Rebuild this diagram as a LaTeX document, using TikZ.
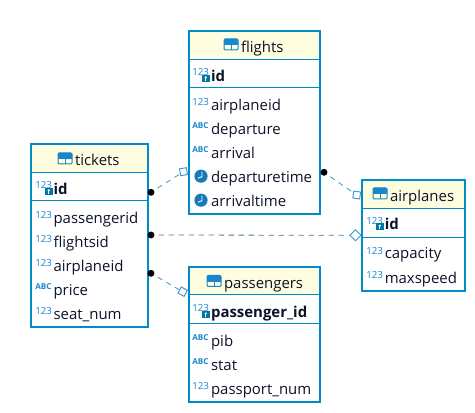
\documentclass[tikz,border=0pt]{standalone}
\usepackage{fontspec}
\setmainfont{Open Sans}
\usepackage{xcolor}
\usetikzlibrary{shapes.geometric}
\definecolor{boxblue}{RGB}{0,140,200}
\definecolor{iconblue}{RGB}{25,135,205}
\definecolor{headyellow}{RGB}{255,253,224}
\definecolor{linkblue}{RGB}{60,150,200}
\definecolor{linkdark}{RGB}{70,120,150}
\definecolor{inkdark}{RGB}{12,18,40}
\tikzset{
  entitybox/.style={draw=boxblue,line width=2.1pt,inner sep=0pt,outer sep=0pt,anchor=north west},
  headfill/.style={fill=headyellow,inner sep=0pt,outer sep=0pt,anchor=north west},
  fieldtext/.style={anchor=base west,inner sep=0pt,xshift=-0.9pt,yshift=-0.4pt,text=inkdark,font=\fontsize{11.2}{13}\selectfont},
  keytext/.style={fieldtext,font=\fontsize{11.2}{13}\selectfont\bfseries},
  numicon/.style={anchor=base west,inner sep=0pt,text=iconblue,font=\fontsize{7.3}{8}\selectfont},
  abcicon/.style={anchor=base west,inner sep=0pt,text=iconblue,font=\fontsize{6.1}{7}\selectfont\bfseries},
  rowrule/.style={draw=boxblue,line width=0.75pt},
  reldot/.style={circle,fill=black,inner sep=0pt,minimum size=5.2pt},
  relsquare/.style={draw=linkblue,fill=white,line width=0.7pt,inner sep=0pt,minimum size=5.2pt},
  reldiamond/.style={diamond,draw=linkblue,fill=white,line width=0.6pt,inner sep=0pt,minimum size=8.5pt},
  rellink/.style={draw=linkblue,line width=0.6pt,dash pattern=on 4pt off 3.5pt},
}
% table icon left of a title, #1 = left, #2 = baseline
\newcommand{\tableicon}[2]{
  \fill[iconblue,rounded corners=0.8pt] (#1,#2-12) rectangle (#1+14,#2-6);
  \draw[iconblue,line width=0.75pt,rounded corners=0.8pt] (#1,#2-12) rectangle (#1+14,#2-1);
  \draw[iconblue,line width=0.75pt] (#1,#2-6) -- (#1+14,#2-6) (#1+7,#2-6) -- (#1+7,#2-1);
}
% #1 = name, #2 = left of icon, #3 = left of text, #4 = baseline, #5 = text
\newcommand{\numrow}[5]{
  \node[numicon] (#1 icon) at (#2,#4-4) {123};
  \node[fieldtext] (#1) at (#3,#4) {#5};
}
\newcommand{\abcrow}[5]{
  \node[abcicon] (#1 icon) at (#2,#4-5) {ABC};
  \node[fieldtext] (#1) at (#3,#4) {#5};
}
\newcommand{\timerow}[5]{
  \fill[iconblue!90!black] (#2+8,#4-5.5) circle (6.6);
  \draw[white,line width=0.7pt] (#2+9,#4-10) -- (#2+9,#4-5) -- (#2+5,#4-3.5);
  \node[fieldtext] (#1) at (#3,#4) {#5};
}
\newcommand{\keyrow}[5]{
  \node[numicon] (#1 icon) at (#2,#4-5) {123};
  \fill[boxblue!85!black] (#2+10,#4-6) rectangle (#2+17.5,#4+1);
  \fill[white] (#2+13.8,#4-3.6) circle (1.2);
  \draw[white,line width=0.5pt] (#2+13.8,#4-3) -- (#2+13.8,#4);
  \node[keytext] (#1) at (#3,#4) {#5};
}
\begin{document}
\begin{tikzpicture}[x=0.75pt,y=0.75pt,yscale=-1,xscale=1]
\useasboundingbox (0,0) rectangle (475,413);

% flights
\node[headfill,minimum width=98.25pt,minimum height=21pt] (flights head) at (189,31) {};
\node[entitybox,minimum width=98.25pt,minimum height=137.25pt] (flights) at (189,31) {};
\draw[rowrule] (189,59.5) -- (320,59.5) (189,88) -- (320,88);
\tableicon{224}{51}
\node[fieldtext] (flights title) at (242,51.7) {flights};
\keyrow{flights id}{192}{212}{81}{id}
\numrow{flights airplaneid}{192}{212}{110}{airplaneid}
\abcrow{flights departure}{192}{212}{134}{departure}
\abcrow{flights arrival}{192}{212}{157.7}{arrival}
\timerow{flights departuretime}{193}{212}{181.7}{departuretime}
\timerow{flights arrivaltime}{193}{212}{205.7}{arrivaltime}

% tickets
\node[headfill,minimum width=87.75pt,minimum height=21pt] (tickets head) at (31,144) {};
\node[entitybox,minimum width=87.75pt,minimum height=137.25pt] (tickets) at (31,144) {};
\draw[rowrule] (31,172.5) -- (148,172.5) (31,201) -- (148,201);
\tableicon{58}{165}
\node[fieldtext] (tickets title) at (76,165) {tickets};
\keyrow{tickets id}{35}{54.5}{194}{id}
\numrow{tickets passengerid}{35}{54.5}{223}{passengerid}
\numrow{tickets flightsid}{35}{54.5}{246.7}{flightsid}
\numrow{tickets airplaneid}{35}{54.5}{270.7}{airplaneid}
\abcrow{tickets price}{35}{54.5}{295}{price}
\numrow{tickets seat}{35}{54.5}{319}{seat\_num}

% passengers
\node[headfill,minimum width=98.25pt,minimum height=21pt] (passengers head) at (189,267) {};
\node[entitybox,minimum width=98.25pt,minimum height=101.25pt] (passengers) at (189,267) {};
\draw[rowrule] (189,295) -- (320,295) (189,324) -- (320,324);
\tableicon{207}{287.5}
\node[fieldtext] (passengers title) at (225,288) {passengers};
\keyrow{passengers id}{192}{212}{317}{passenger\_id}
\abcrow{passengers pib}{192}{212}{346}{pib}
\abcrow{passengers stat}{192}{212}{370}{stat}
\numrow{passengers passport}{192}{212}{394}{passport\_num}

% airplanes
\node[headfill,minimum width=77.25pt,minimum height=21pt] (airplanes head) at (362,180) {};
\node[entitybox,minimum width=77.25pt,minimum height=83.25pt] (airplanes) at (362,180) {};
\draw[rowrule] (362,208.5) -- (465,208.5) (362,237.5) -- (465,237.5);
\tableicon{373}{200}
\node[fieldtext] (airplanes title) at (391,200.7) {airplanes};
\keyrow{airplanes id}{366}{385.7}{229.3}{id}
\numrow{airplanes capacity}{366}{385.7}{258.3}{capacity}
\numrow{airplanes maxspeed}{366}{385.7}{282.7}{maxspeed}

% relations
\node[reldot] (dot flights) at (151,192.3) {};
\node[reldot] (dot airplanes) at (151,235) {};
\node[reldot] (dot passengers) at (151,273.3) {};
\node[reldot] (dot flights out) at (324,172.3) {};
\node[relsquare,rotate=10] (end flights) at (183.5,171.7) {};
\node[reldiamond] (end airplanes) at (355.5,235.3) {};
\node[relsquare,rotate=-28] (end passengers) at (182.7,291.7) {};
\node[relsquare,rotate=-8] (end planes) at (356.7,195) {};
\draw[rellink,shorten <=3pt] (dot flights) -- (end flights);
\draw[rellink,draw=linkdark,shorten <=3pt] (dot airplanes) -- (end airplanes);
\draw[rellink,shorten <=3pt] (dot passengers) -- (end passengers);
\draw[rellink,shorten <=3pt] (dot flights out) -- (end planes);
\end{tikzpicture}
\end{document}
